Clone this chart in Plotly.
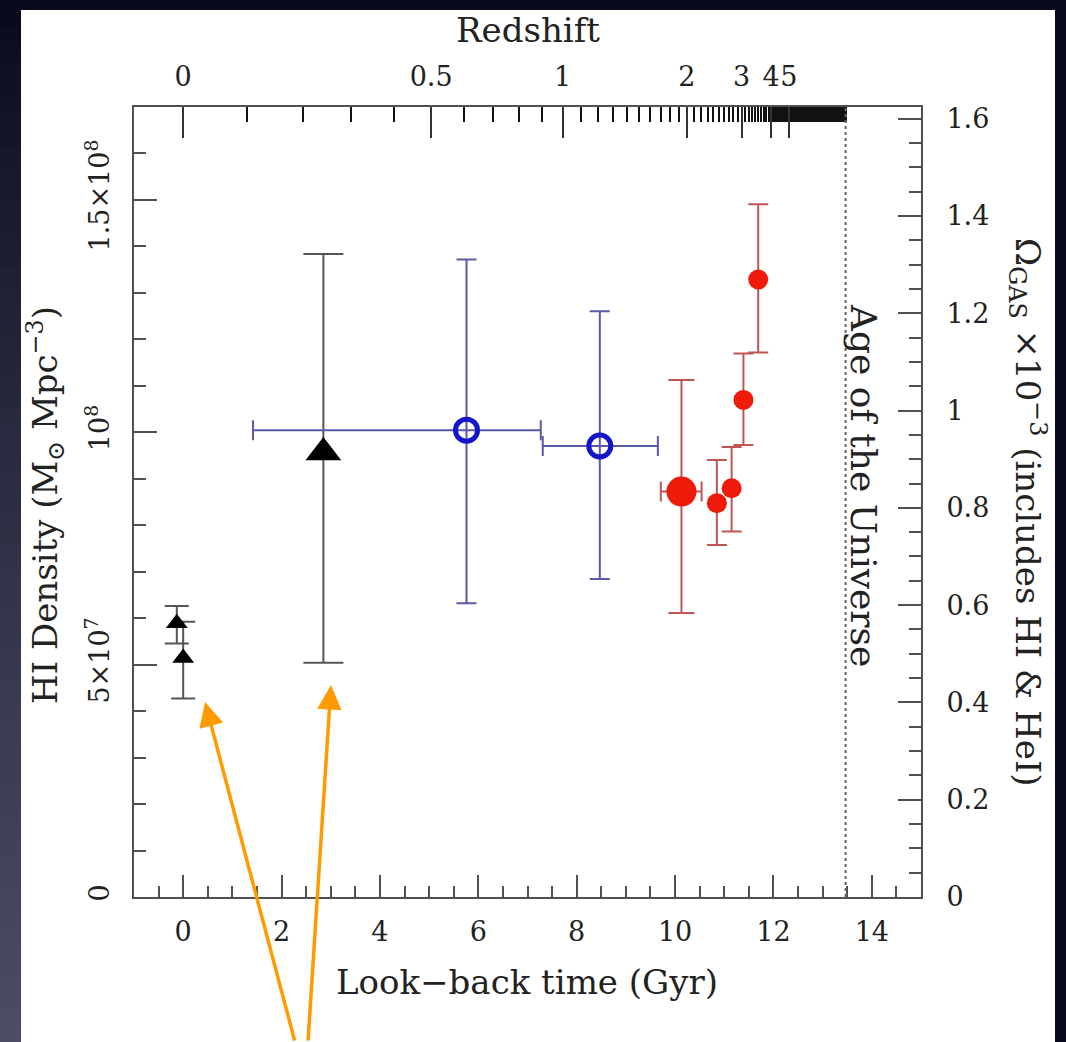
import numpy as np
import plotly.graph_objects as go

# ---------------- data ----------------
# local HI surveys (small black triangles)
local_t = [-0.13, 0.0]
local_rho = [0.589e8, 0.514e8]
local_ep = [0.037e8, 0.078e8]
local_em = [0.044e8, 0.087e8]

# intermediate-z stacking point (large black triangle)
stack_t = [2.85]
stack_rho = [0.956e8]
stack_ep = [0.427e8]
stack_em = [0.452e8]

# blue open circles (with look-back-time bins)
blue_t = [5.76, 8.47]
blue_rho = [1.004e8, 0.970e8]
blue_ep = [0.367e8, 0.290e8]
blue_em = [0.372e8, 0.286e8]
blue_tp = [1.51, 1.18]
blue_tm = [4.34, 1.16]

# big red DLA point
bigred_t = [10.13]
bigred_rho = [0.872e8]
bigred_ep = [0.240e8]
bigred_em = [0.261e8]
bigred_tp = [0.41]
bigred_tm = [0.42]

# small red DLA points
red_t = [10.85, 11.15, 11.39, 11.69]
red_rho = [0.847e8, 0.879e8, 1.069e8, 1.328e8]
red_ep = [0.093e8, 0.089e8, 0.100e8, 0.162e8]
red_em = [0.090e8, 0.093e8, 0.097e8, 0.157e8]

# axes
x_ticks = [0, 2, 4, 6, 8, 10, 12, 14]
left_tickvals = [0, 0.5e8, 1.0e8, 1.5e8]
left_ticktext = ["0", "5×10<sup>7</sup>", "10<sup>8</sup>", "1.5×10<sup>8</sup>"]
right_tickvals = [0, 0.2, 0.4, 0.6, 0.8, 1.0, 1.2, 1.4, 1.6]
right_ticktext = ["0", "0.2", "0.4", "0.6", "0.8", "1", "1.2", "1.4", "1.6"]
z_labels = [0, 0.5, 1, 2, 3, 4, 5]
z_labeltext = ["0", "0.5", "1", "2", "3", "4", "5"]

# ---------------- cosmology for the redshift axis ----------------
H0, Om, OL = 70.0, 0.3, 0.7
hubble_time = 977.8 / H0  # Gyr


def lookback(z):
    a_min = 1.0 / (1.0 + z)
    a = np.linspace(a_min, 1.0, 4001)
    integrand = 1.0 / (a * np.sqrt(Om / a**3 + OL))
    return hubble_time * np.trapezoid(integrand, a)


age = lookback(1e7)
z_major = [0, 0.5, 1, 2, 3, 4, 5, 6, 7, 8, 9, 10]
z_minor = (list(np.round(np.arange(0, 4, 0.1), 2)) + list(np.round(np.arange(4, 10, 0.04), 2))
           + list(np.arange(10, 30, 0.25)) + list(range(30, 3000, 5)))
t_major = [lookback(z) for z in z_major]
t_minor = [lookback(z) for z in z_minor]
major_text = [z_labeltext[z_labels.index(z)] if z in z_labels else "" for z in z_major]

# ---------------- figure ----------------
W, H = 1066, 1042
L, R, T, B = 134, 921, 107, 897
pw, ph = R - L, B - T


def px(xp):
    return (xp - L) / pw


def py(yp):
    return (B - yp) / ph


FONT = "DejaVu Serif"
AX = "#505050"
fig = go.Figure()

fig.add_trace(go.Scatter(
    x=local_t, y=local_rho, mode="markers",
    marker=dict(symbol="triangle-up", size=19, color="black"),
    error_y=dict(type="data", array=local_ep, arrayminus=local_em, color="#555555", thickness=2, width=12),
    showlegend=False, hoverinfo="skip"))

fig.add_trace(go.Scatter(
    x=stack_t, y=stack_rho, mode="markers",
    marker=dict(symbol="triangle-up", size=31, color="black"),
    error_y=dict(type="data", array=stack_ep, arrayminus=stack_em, color="#555555", thickness=2, width=20),
    showlegend=False, hoverinfo="skip"))

fig.add_trace(go.Scatter(
    x=blue_t, y=blue_rho, mode="markers",
    marker=dict(symbol="circle-open", size=22, color="#1414c8", line=dict(width=5, color="#1414c8")),
    error_y=dict(type="data", array=blue_ep, arrayminus=blue_em, color="#5a5aa8", thickness=2, width=10),
    error_x=dict(type="data", array=blue_tp, arrayminus=blue_tm, color="#5a5aa8", thickness=2, width=10),
    showlegend=False, hoverinfo="skip"))

fig.add_trace(go.Scatter(
    x=bigred_t, y=bigred_rho, mode="markers",
    marker=dict(symbol="circle", size=30, color="#ee1a0a"),
    error_y=dict(type="data", array=bigred_ep, arrayminus=bigred_em, color="#c05555", thickness=2, width=13),
    error_x=dict(type="data", array=bigred_tp, arrayminus=bigred_tm, color="#c05555", thickness=2, width=10),
    showlegend=False, hoverinfo="skip"))

fig.add_trace(go.Scatter(
    x=red_t, y=red_rho, mode="markers",
    marker=dict(symbol="circle", size=20, color="#ee1a0a"),
    error_y=dict(type="data", array=red_ep, arrayminus=red_em, color="#c05555", thickness=2, width=10),
    showlegend=False, hoverinfo="skip"))

# invisible trace to anchor the secondary axes
fig.add_trace(go.Scatter(x=[None], y=[None], xaxis="x2", yaxis="y2",
                         showlegend=False, hoverinfo="skip"))

tickfont = dict(family=FONT, size=27, color="#222222")
titlefont = dict(family=FONT, size=34, color="#222222")

fig.update_layout(
    width=W, height=H,
    margin=dict(l=L, r=W - R, t=T, b=H - B),
    paper_bgcolor="#090a1c",
    plot_bgcolor="white",
    xaxis=dict(range=[-1, 15], tickmode="array", tickvals=x_ticks, ticktext=[str(v) for v in x_ticks],
               ticks="inside", ticklen=22, tickwidth=2, tickcolor=AX, tickangle=0,
               minor=dict(dtick=0.5, tick0=0, ticks="inside", ticklen=11, tickwidth=2, tickcolor=AX),
               showline=True, linecolor=AX, linewidth=2, showgrid=False, zeroline=False,
               tickfont=tickfont, ticklabelstandoff=10),
    xaxis2=dict(range=[-1, 15], overlaying="x", side="top", anchor="y",
                tickmode="array", tickvals=t_major, ticktext=major_text, tickangle=0,
                ticks="inside", ticklen=31, tickwidth=2, tickcolor="#333333",
                minor=dict(tickmode="array", tickvals=t_minor, ticks="inside", ticklen=15,
                           tickwidth=2, tickcolor="#111111"),
                showline=True, linecolor=AX, linewidth=2, showgrid=False, zeroline=False,
                tickfont=tickfont, ticklabelstandoff=8),
    yaxis=dict(range=[0, 1.699e8], tickmode="array", tickvals=left_tickvals, ticktext=left_ticktext,
               tickangle=-90, ticks="inside", ticklen=23, tickwidth=2, tickcolor=AX,
               minor=dict(dtick=1e7, tick0=0, ticks="inside", ticklen=12, tickwidth=2, tickcolor=AX),
               showline=True, linecolor=AX, linewidth=2, showgrid=False, zeroline=False,
               tickfont=tickfont, ticklabelstandoff=12),
    yaxis2=dict(range=[0, 1.624], overlaying="y", side="right", anchor="x",
                tickmode="array", tickvals=right_tickvals, ticktext=right_ticktext,
                ticks="inside", ticklen=23, tickwidth=2, tickcolor=AX,
                minor=dict(dtick=0.05, tick0=0, ticks="inside", ticklen=12, tickwidth=2, tickcolor=AX),
                showline=True, linecolor=AX, linewidth=2, showgrid=False, zeroline=False,
                tickfont=tickfont, ticklabelstandoff=18),
)

# background: white panel + smooth dark gradient strip on the left
shapes = [dict(type="rect", xref="paper", yref="paper", layer="below",
               x0=px(21), x1=px(1055), y0=py(1042), y1=py(10),
               fillcolor="white", line=dict(width=0))]
c_top = np.array([9, 10, 28])
c_bot = np.array([76, 76, 100])
n = 60
for i in range(n):
    f = (i / (n - 1)) ** 0.8
    c = (c_top + (c_bot - c_top) * f).astype(int)
    shapes.append(dict(type="rect", xref="paper", yref="paper", layer="below",
                       x0=px(0), x1=px(21), y0=py(10 + (i + 1) * 1032 / n + 0.5), y1=py(10 + i * 1032 / n),
                       fillcolor="rgb(%d,%d,%d)" % tuple(c), line=dict(width=0)))
# age of the universe
shapes.append(dict(type="line", xref="x", yref="paper", x0=age, x1=age, y0=0, y1=1,
                   line=dict(color="#666666", width=2, dash="dot")))
fig.update_layout(shapes=shapes)

ann = [
    dict(text="Redshift", x=px(528), y=py(30), xref="paper", yref="paper", showarrow=False,
         font=titlefont, xanchor="center", yanchor="middle"),
    dict(text="Look\u2212back time (Gyr)", x=px(527), y=py(982), xref="paper", yref="paper", showarrow=False,
         font=titlefont, xanchor="center", yanchor="middle"),
    dict(text="HI Density (M<sub>\u2299</sub> Mpc<sup>\u22123</sup>)", x=px(45), y=py(505), xref="paper",
         yref="paper", showarrow=False, textangle=-90, font=titlefont, xanchor="center", yanchor="middle"),
    dict(text="\u03a9<sub>GAS</sub> \u00d710<sup>\u22123</sup> (includes HI & HeI)", x=px(1028), y=py(512),
         xref="paper", yref="paper", showarrow=False, textangle=90, font=titlefont,
         xanchor="center", yanchor="middle"),
    dict(text="Age of the Universe", x=px(864), y=py(485), xref="paper", yref="paper", showarrow=False,
         textangle=90, font=dict(family=FONT, size=36, color="#222222"), xanchor="center", yanchor="middle"),
    dict(text="", x=px(205), y=py(702), xref="paper", yref="paper", showarrow=True,
         ax=90, ay=340, arrowcolor="#ff9a00", arrowwidth=3.5, arrowhead=2, arrowsize=1.4),
    dict(text="", x=px(331), y=py(685), xref="paper", yref="paper", showarrow=True,
         ax=-23, ay=357, arrowcolor="#ff9a00", arrowwidth=3.5, arrowhead=2, arrowsize=1.4),
]
fig.update_layout(annotations=ann)

fig.write_html("out.html")
